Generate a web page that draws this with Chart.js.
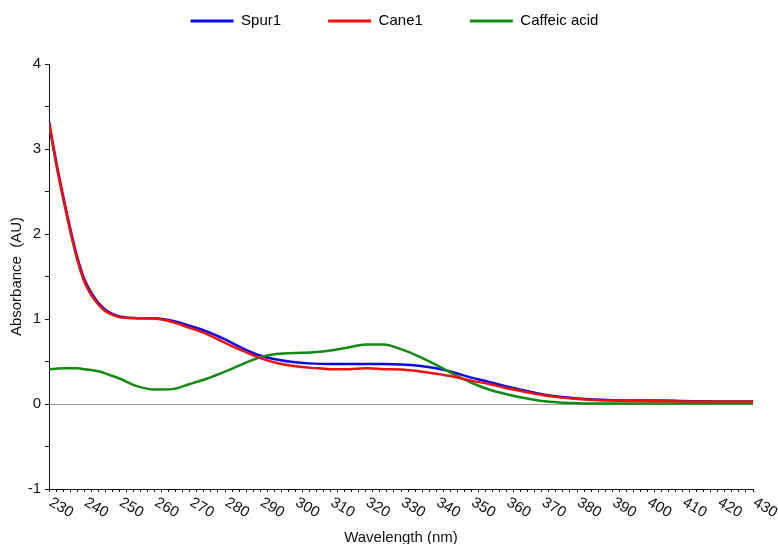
<!DOCTYPE html>
<html>
<head>
<meta charset="utf-8">
<script src="https://cdn.jsdelivr.net/npm/chart.js@4/dist/chart.umd.min.js"></script>
<style>
  html, body { margin: 0; padding: 0; background: #ffffff; }
  #wrap { position: relative; width: 778px; height: 544px; }
</style>
</head>
<body>
<div id="wrap"><canvas id="c"></canvas></div>
<script>
const seriesNames = ['Spur1', 'Cane1', 'Caffeic acid'];
const wavelengths = [230,232,234,236,238,240,242,244,246,248,250,255,260,265,270,275,280,285,290,295,300,305,310,315,320,325,330,335,340,345,350,355,360,365,370,375,380,385,390,395,400,405,410,415,420,425,430];
const spur1 = [3.32,2.86,2.45,2.07,1.73,1.47,1.31,1.19,1.11,1.06,1.03,1.01,1.01,0.98,0.92,0.85,0.76,0.655,0.57,0.52,0.49,0.475,0.47,0.47,0.47,0.47,0.465,0.45,0.42,0.37,0.31,0.26,0.205,0.16,0.115,0.085,0.065,0.052,0.045,0.042,0.04,0.042,0.035,0.032,0.03,0.03,0.03];
const cane1 = [3.30,2.83,2.42,2.04,1.70,1.44,1.28,1.17,1.09,1.05,1.02,1.01,1.005,0.965,0.895,0.82,0.72,0.625,0.54,0.48,0.445,0.425,0.41,0.41,0.42,0.41,0.405,0.385,0.355,0.32,0.275,0.235,0.185,0.145,0.105,0.078,0.06,0.048,0.04,0.036,0.034,0.032,0.03,0.03,0.03,0.03,0.03];
const caffeicAcid = [0.41,0.415,0.42,0.42,0.42,0.41,0.40,0.385,0.36,0.33,0.30,0.21,0.17,0.175,0.235,0.30,0.38,0.47,0.55,0.59,0.60,0.61,0.63,0.665,0.70,0.70,0.645,0.56,0.46,0.35,0.25,0.17,0.115,0.07,0.035,0.018,0.01,0.006,0.005,0.005,0.005,0.005,0.005,0.005,0.005,0.005,0.005];
const xTickLabels = [230,240,250,260,270,280,290,300,310,320,330,340,350,360,370,380,390,400,410,420,430];
const yTickLabels = [-1,0,1,2,3,4];

const colors = ['#0a0ae6', '#ee1111', '#138a13'];
const FONT = '"Liberation Sans", Arial, sans-serif';

function pts(vals) { return wavelengths.map((w, i) => ({x: w, y: vals[i]})); }

const xLabelPlugin = {
  id: 'xLabels',
  afterDraw(chart) {
    const xs = chart.scales.x;
    const ctx = chart.ctx;
    ctx.save();
    ctx.font = '15px ' + FONT;
    ctx.fillStyle = '#111';
    ctx.textAlign = 'left';
    ctx.textBaseline = 'top';
    const y0 = xs.top + 6;
    xTickLabels.forEach(v => {
      const px = xs.getPixelForValue(v);
      ctx.save();
      ctx.translate(px + 5, y0);
      ctx.rotate(Math.PI / 6);
      ctx.fillText(String(v), 0, 0);
      ctx.restore();
    });
    ctx.restore();
  }
};

new Chart(document.getElementById('c'), {
  type: 'line',
  data: {
    datasets: [
      { label: seriesNames[0], data: pts(spur1), borderColor: colors[0], backgroundColor: colors[0], order: 2 },
      { label: seriesNames[1], data: pts(cane1), borderColor: colors[1], backgroundColor: colors[1], order: 0 },
      { label: seriesNames[2], data: pts(caffeicAcid), borderColor: colors[2], backgroundColor: colors[2], order: 1 }
    ]
  },
  options: {
    responsive: true,
    maintainAspectRatio: false,
    animation: false,
    devicePixelRatio: 1,
    layout: { padding: { top: -33.5, left: 11, right: 0, bottom: 0 } },
    elements: {
      line: { borderWidth: 2.5, cubicInterpolationMode: 'monotone', fill: false },
      point: { radius: 0, hoverRadius: 0 }
    },
    plugins: {
      tooltip: { enabled: false },
      subtitle: { display: true, text: '', weight: 500, font: { size: 1 }, padding: { top: 24.3, bottom: 0 } },
      legend: {
        position: 'top',
        labels: {
          font: { size: 15, family: FONT },
          color: '#111',
          boxWidth: 43,
          boxHeight: 3,
          padding: 47,
          sort: (a, b) => a.datasetIndex - b.datasetIndex,
          generateLabels: (chart) => chart.data.datasets.map((ds, i) => ({
            text: ds.label, fillStyle: ds.borderColor, strokeStyle: ds.borderColor,
            lineWidth: 0, hidden: false, datasetIndex: i
          }))
        }
      }
    },
    scales: {
      x: {
        type: 'linear',
        min: 230, max: 430,
        afterFit: (s) => { s.height = 55; },
        border: { display: true, color: '#111', width: 1 },
        grid: { display: true, drawOnChartArea: false, tickLength: 3, tickColor: '#111', tickWidth: 1 },
        ticks: { stepSize: 2, autoSkip: false, maxTicksLimit: 500, maxRotation: 0, minRotation: 0, callback: () => '', padding: 0 },
        title: { display: true, text: 'Wavelength (nm)', color: '#111', font: { size: 15, family: FONT }, padding: { top: 0, bottom: -3 } }
      },
      y: {
        type: 'linear',
        min: -1, max: 4,
        afterFit: (s) => { s.width = 38; },
        border: { display: true, color: '#111', width: 1 },
        grid: {
          display: true,
          drawOnChartArea: true,
          color: (c) => (c.tick && c.tick.value === 0) ? '#9a9a9a' : 'rgba(0,0,0,0)',
          lineWidth: 1,
          tickLength: 4,
          tickColor: '#111',
          tickWidth: 1
        },
        ticks: {
          stepSize: 0.5,
          autoSkip: false,
          padding: 4,
          color: '#111',
          font: { size: 15, family: FONT },
          callback: (v) => yTickLabels.includes(v) ? String(v) : ''
        },
        title: { display: true, text: 'Absorbance  (AU)', color: '#111', font: { size: 15, family: FONT }, padding: { top: -3, bottom: 0 } }
      },
      rightSpace: {
        type: 'linear',
        position: 'right',
        min: 0, max: 1,
        display: true,
        afterFit: (s) => { s.width = 25; },
        border: { display: false },
        grid: { display: false },
        ticks: { display: false }
      }
    }
  },
  plugins: [xLabelPlugin]
});
</script>
</body>
</html>
